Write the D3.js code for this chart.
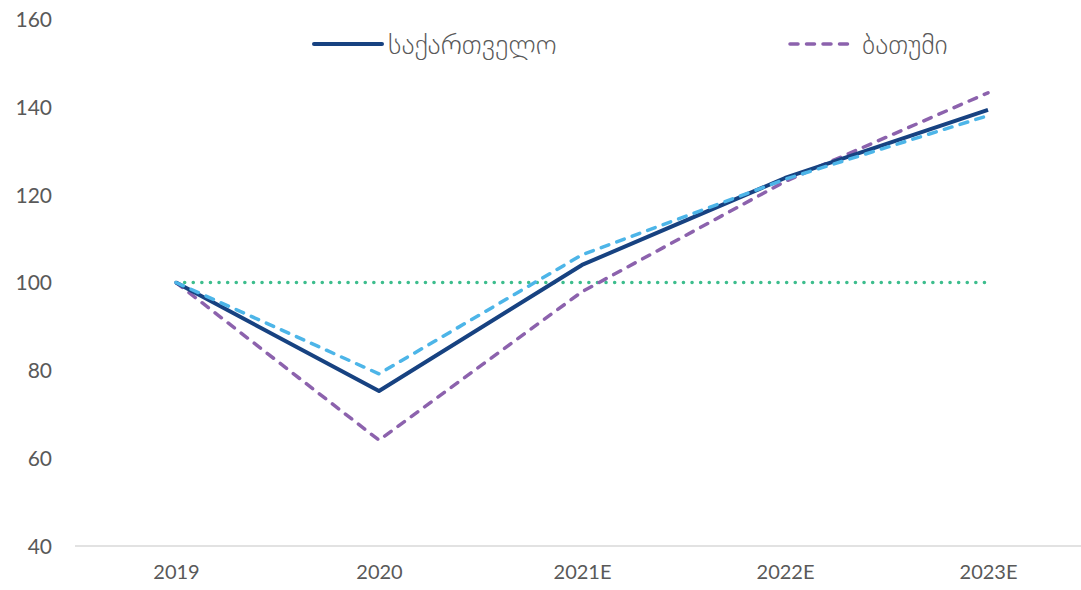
<!DOCTYPE html>
<html><head><meta charset="utf-8">
<script src="https://cdn.jsdelivr.net/npm/d3@7"></script>
<style>body{margin:0;background:#fff}svg{display:block}text{font-family:Lato,"DejaVu Sans",sans-serif;fill:#595959}</style>
</head><body><svg id="c" width="1081" height="590"></svg>
<script>
const categories = ["2019","2020","2021E","2022E","2023E"];
const georgia = [100, 75.3, 104, 123.8, 139.3];
const batumi = [100, 64.1, 97.9, 123, 143.2];
const thirdSeries = [100, 79.2, 106.3, 123.5, 138];
const baseline = [100, 100, 100, 100, 100];
const yTicks = [40, 60, 80, 100, 120, 140, 160];
const legendLabels = ["საქართველო", "ბათუმი"];

const svg = d3.select("#c");
const x = d3.scalePoint().domain(categories).range([176, 988]);
const y = d3.scaleLinear().domain([40, 160]).range([546, 19]);

// x axis line
svg.append("line").attr("x1", 75).attr("x2", 1081).attr("y1", y(40)).attr("y2", y(40))
  .attr("stroke", "#d9d9d9").attr("stroke-width", 1.5);

// y tick labels
const yAxis = d3.axisLeft(y).tickValues(yTicks).tickSize(0).tickPadding(0);
const ga = svg.append("g").attr("transform", "translate(52,0)").call(yAxis);
ga.select(".domain").remove();
ga.selectAll("text").attr("font-size", 21).style("font-family", "Lato, sans-serif").attr("fill", "#595959").attr("dy", "0.35em");

// x tick labels
const xAxis = d3.axisBottom(x).tickSize(0).tickPadding(0);
const gx = svg.append("g").attr("transform", "translate(0,565)").call(xAxis);
gx.select(".domain").remove();
gx.selectAll("text").attr("font-size", 20).style("font-family", "Lato, sans-serif").attr("fill", "#595959").attr("dy", "0.71em");

const line = d3.line().x((d, i) => x(categories[i])).y(d => y(d));

svg.append("path").datum(baseline).attr("d", line).attr("fill", "none")
  .attr("stroke", "#3dbd8d").attr("stroke-width", 3.5).attr("stroke-dasharray", "0.1 8.5").attr("stroke-linecap", "round");
svg.append("path").datum(batumi).attr("d", line).attr("fill", "none")
  .attr("stroke", "#8c62ad").attr("stroke-width", 3.5).attr("stroke-dasharray", "8 8.5").attr("stroke-linecap", "round");
svg.append("path").datum(georgia).attr("d", line).attr("fill", "none")
  .attr("stroke", "#174281").attr("stroke-width", 4).attr("stroke-linejoin", "round");
svg.append("path").datum(thirdSeries).attr("d", line).attr("fill", "none")
  .attr("stroke", "#4db5e8").attr("stroke-width", 3.5).attr("stroke-dasharray", "8 8.5").attr("stroke-linecap", "round");

// legend
const lg = svg.append("g");
lg.append("line").attr("x1", 314).attr("x2", 382).attr("y1", 44).attr("y2", 44)
  .attr("stroke", "#174281").attr("stroke-width", 4).attr("stroke-linecap", "round");
lg.append("text").attr("x", 388).attr("y", 44).attr("dy", "0.35em").attr("font-size", 28)
  .style("font-family", "'DejaVu Sans', sans-serif").style("font-weight", 200).text(legendLabels[0]);
lg.append("line").attr("x1", 790).attr("x2", 856).attr("y1", 44).attr("y2", 44)
  .attr("stroke", "#8c62ad").attr("stroke-width", 3.5).attr("stroke-dasharray", "8 8.5").attr("stroke-linecap", "round");
lg.append("text").attr("x", 862).attr("y", 44).attr("dy", "0.35em").attr("font-size", 28)
  .style("font-family", "'DejaVu Sans', sans-serif").style("font-weight", 200).text(legendLabels[1]);
</script></body></html>
